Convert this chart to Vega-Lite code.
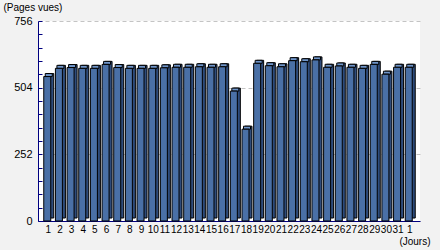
{
  "$schema": "https://vega.github.io/schema/vega-lite/v6.json",
  "width": 382,
  "height": 200,
  "autosize": "none",
  "padding": {"left": 38, "top": 21, "right": 20, "bottom": 29},
  "background": "#f2f2f2",
  "config": {"view": {"fill": "white", "stroke": null}, "font": "Liberation Sans"},
  "data": {"values": [
    {"i": 1, "v": 546}, {"i": 2, "v": 577}, {"i": 3, "v": 580}, {"i": 4, "v": 577},
    {"i": 5, "v": 577}, {"i": 6, "v": 592}, {"i": 7, "v": 580}, {"i": 8, "v": 577},
    {"i": 9, "v": 577}, {"i": 10, "v": 577}, {"i": 11, "v": 579}, {"i": 12, "v": 581},
    {"i": 13, "v": 581}, {"i": 14, "v": 583}, {"i": 15, "v": 581}, {"i": 16, "v": 583},
    {"i": 17, "v": 491}, {"i": 18, "v": 347}, {"i": 19, "v": 596}, {"i": 20, "v": 587},
    {"i": 21, "v": 583}, {"i": 22, "v": 606}, {"i": 23, "v": 602}, {"i": 24, "v": 609},
    {"i": 25, "v": 581}, {"i": 26, "v": 586}, {"i": 27, "v": 581}, {"i": 28, "v": 577},
    {"i": 29, "v": 592}, {"i": 30, "v": 555}, {"i": 31, "v": 581}, {"i": 32, "v": 581}
  ]},
  "encoding": {
    "x": {
      "field": "i", "type": "ordinal",
      "scale": {"paddingInner": 0, "paddingOuter": 0.38},
      "axis": {
        "title": "(Jours)", "labelAngle": 0, "ticks": false, "domainColor": "#000080",
        "labelPadding": 3, "labelFontSize": 10, "labelColor": "black",
        "titleFontSize": 10, "titleFontWeight": "normal", "titleColor": "black",
        "titleX": 392, "titleY": 20, "titleAlign": "right", "titleBaseline": "middle",
        "labelExpr": "datum.value > 31 ? '1' : datum.label", "grid": false
      }
    },
    "y": {
      "field": "v", "type": "quantitative",
      "scale": {"domain": [0, 756], "nice": false},
      "axis": {
        "title": "(Pages vues)", "titleAngle": 0, "titleX": -35, "titleY": -14,
        "titleAlign": "left", "titleBaseline": "middle", "titleFontSize": 10,
        "titleFontWeight": "normal", "titleColor": "black",
        "values": [0, 50.4, 100.8, 151.2, 201.6, 252, 302.4, 352.8, 403.2, 453.6, 504, 554.4, 604.8, 655.2, 705.6, 756],
        "labelExpr": "abs(datum.value / 252 - round(datum.value / 252)) < 0.001 ? datum.label : ''",
        "tickSize": -4, "tickColor": "#000080", "domainColor": "#000080",
        "labelPadding": 10, "labelFontSize": 11, "labelColor": "black",
        "grid": true, "gridDash": [4, 3], "gridColor": "#c4c4c4",
        "gridOpacity": {"condition": {"test": "abs(datum.value / 252 - round(datum.value / 252)) < 0.001", "value": 1}, "value": 0}
      }
    }
  },
  "layer": [
    {"mark": {"type": "bar", "size": 7, "fill": "#2e4c7c", "stroke": "black", "strokeWidth": 1, "xOffset": 2, "yOffset": -3}},
    {"mark": {"type": "bar", "size": 7, "fill": "#6f95ca", "stroke": "black", "strokeWidth": 1, "xOffset": 0.5, "yOffset": -3},
     "encoding": {"y2": {"field": "v"}}},
    {"mark": {"type": "bar", "size": 7, "fill": "#4a70a6", "stroke": "black", "strokeWidth": 1, "xOffset": -1}}
  ]
}
